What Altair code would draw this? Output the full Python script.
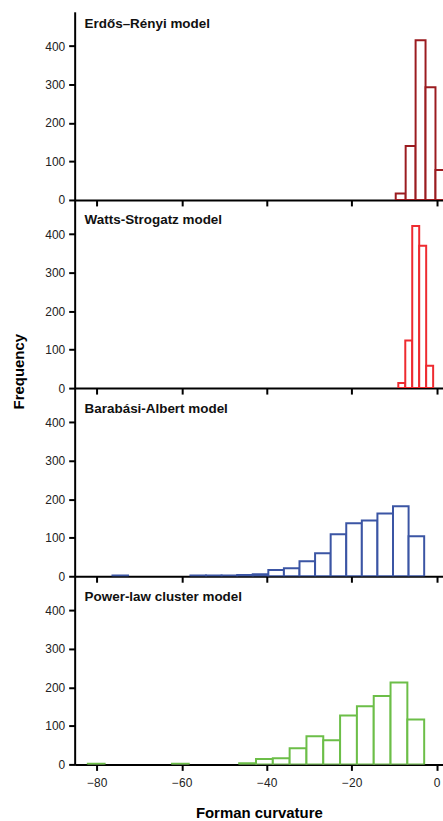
import altair as alt
import numpy as np
import pandas as pd

FONT = "Liberation Sans"

# ---- data ----
models = ["Erdős–Rényi model", "Watts-Strogatz model", "Barabási-Albert model", "Power-law cluster model"]
colors = ["#9B1C20", "#EE2B30", "#3B55A4", "#6CBE48"]

er_counts = [17, 140, 415, 293, 78]
er_range = [-9.63, 2.07]

ws_counts = [13, 124, 421, 370, 58]
ws_range = [-9.02, -0.82]

ba_counts = [2, 0, 0, 0, 0, 2, 2, 2, 3, 5, 16, 21, 39, 60, 109, 138, 145, 163, 182, 104]
ba_range = [-76.3, -2.93]

pl_counts = [2, 0, 0, 0, 0, 2, 0, 0, 0, 3, 14, 16, 42, 73, 63, 127, 151, 178, 213, 117]
pl_range = [-82.1, -2.93]

x_ticks = [-80, -60, -40, -20, 0]
y_ticks = [0, 100, 200, 300, 400]
x_domain = [-85.2, 1.5]
y_domain = [0, 489]
title_y = [16, 24, 25, 25]


def hist_frame(counts, rng):
    edges = np.linspace(rng[0], rng[1], len(counts) + 1)
    df = pd.DataFrame({"start": edges[:-1], "end": edges[1:], "count": counts})
    return df[df["count"] > 0]


frames = [hist_frame(er_counts, er_range), hist_frame(ws_counts, ws_range),
          hist_frame(ba_counts, ba_range), hist_frame(pl_counts, pl_range)]


def panel(i):
    bottom = i == 3
    if bottom:
        xaxis = alt.Axis(values=x_ticks, labels=True, title="Forman curvature",
                         titleFontSize=15, titleFontWeight="bold", titleFont=FONT,
                         titlePadding=17, labelFontSize=12, labelPadding=7, labelFont=FONT,
                         labelColor="#222")
    else:
        xaxis = alt.Axis(values=x_ticks, labels=False, title=None)
    if i == 1:
        yaxis = alt.Axis(values=y_ticks, title="Frequency", titleFontSize=15,
                         titleFontWeight="bold", titleFont=FONT, titleAngle=270,
                         titleX=-56, titleY=172, titleAlign="center", titleBaseline="middle",
                         labelFontSize=12, labelFont=FONT, labelColor="#222", labelPadding=4)
    else:
        yaxis = alt.Axis(values=y_ticks, title=None, labelFontSize=12, labelFont=FONT,
                         labelColor="#222", labelPadding=4)
    bars = alt.Chart(frames[i]).mark_bar(
        fill="white", stroke=colors[i], strokeWidth=2, clip=True
    ).encode(
        x=alt.X("start:Q", scale=alt.Scale(domain=x_domain, nice=False, zero=False), axis=xaxis),
        x2="end:Q",
        y=alt.Y("count:Q", scale=alt.Scale(domain=y_domain, nice=False), axis=yaxis),
        y2=alt.datum(0),
    )
    label = alt.Chart(pd.DataFrame({"t": [models[i]]})).mark_text(
        align="left", baseline="alphabetic", fontWeight="bold", fontSize=13.5,
        font=FONT, color="#111"
    ).encode(x=alt.value(10), y=alt.value(title_y[i]), text="t:N")
    return alt.layer(bars, label).properties(width=370, height=189)


chart = alt.vconcat(*[panel(i) for i in range(4)], spacing=0, bounds="flush").properties(
    padding={"left": 12, "top": 10, "right": 0, "bottom": 0}
).configure_view(stroke=None).configure_axis(
    grid=False, domainColor="black", domainWidth=2, tickColor="black",
    tickWidth=2, tickSize=6
)

chart.save("out.html", embed_options={"renderer": "svg", "actions": False})
